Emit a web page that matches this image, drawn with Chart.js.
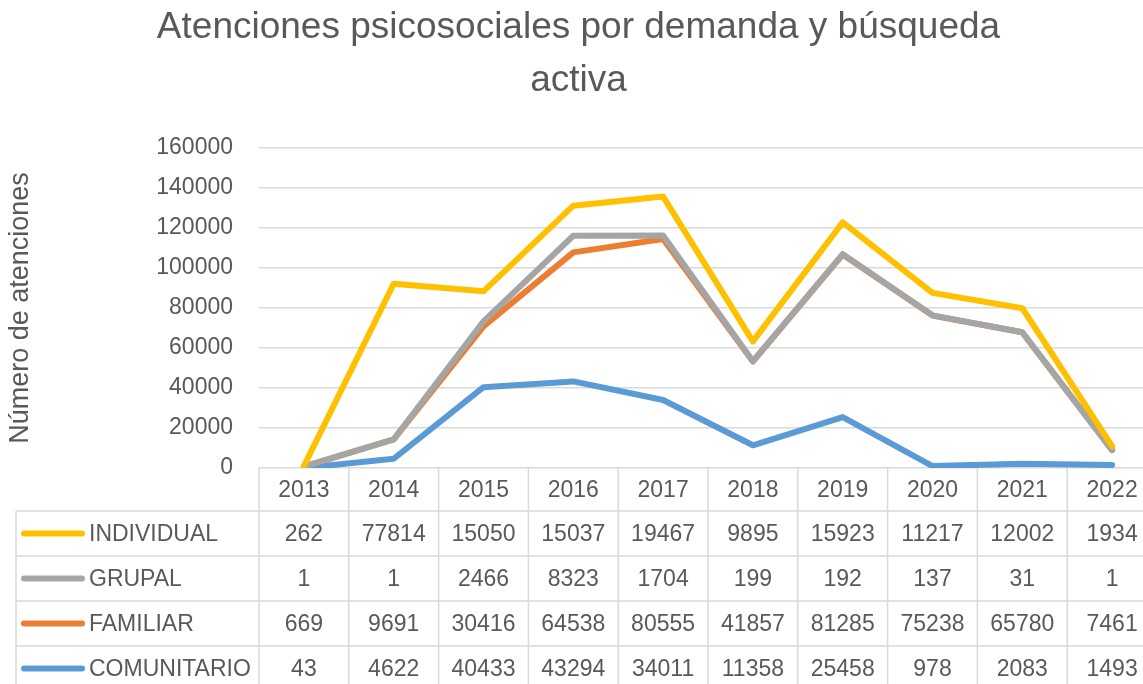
<!DOCTYPE html>
<html>
<head>
<meta charset="utf-8">
<script src="https://cdn.jsdelivr.net/npm/chart.js@4"></script>
<style>
  html, body { margin: 0; padding: 0; overflow: hidden; background: #fff; }
  #wrap { position: absolute; left: 0; top: 0; width: 1170px; height: 684px; }
</style>
</head>
<body>
<div id="wrap"><canvas id="atenciones-chart" width="1170" height="684"></canvas></div>
<script>
const years = ["2013", "2014", "2015", "2016", "2017", "2018", "2019", "2020", "2021", "2022"];
const individual = [262, 77814, 15050, 15037, 19467, 9895, 15923, 11217, 12002, 1934];
const grupal = [1, 1, 2466, 8323, 1704, 199, 192, 137, 31, 1];
const familiar = [669, 9691, 30416, 64538, 80555, 41857, 81285, 75238, 65780, 7461];
const comunitario = [43, 4622, 40433, 43294, 34011, 11358, 25458, 978, 2083, 1493];
const yMax = 160000;
const yStep = 20000;

const textColor = "#595959";
const lineColor = "#D9D9D9";
const font = "'Liberation Sans', Arial, sans-serif";

// stacked lines (Excel "line stacked"), summed here so draw order matches the original
const sumUp = (...arrs) => arrs[0].map((_, i) => arrs.reduce((s, a) => s + a[i], 0));
const stackCom = comunitario;
const stackFam = sumUp(comunitario, familiar);
const stackGru = sumUp(comunitario, familiar, grupal);
const stackInd = sumUp(comunitario, familiar, grupal, individual);

// table rows in the order they appear under the chart
const rows = [
  { label: "INDIVIDUAL", color: "#FFC000", values: individual },
  { label: "GRUPAL", color: "#A5A5A5", values: grupal },
  { label: "FAMILIAR", color: "#ED7D31", values: familiar },
  { label: "COMUNITARIO", color: "#5B9BD5", values: comunitario },
];

const lineStyle = (color) => ({
  fill: false,
  borderColor: color,
  borderWidth: 6,
  tension: 0,
  pointRadius: 0,
  borderCapStyle: "round",
  borderJoinStyle: "round",
});

const chartData = {
  labels: years,
  datasets: [
    { label: "INDIVIDUAL", data: stackInd, ...lineStyle("#FFC000") },
    { label: "GRUPAL", data: stackGru, ...lineStyle("#A5A5A5") },
    { label: "FAMILIAR", data: stackFam, ...lineStyle("#ED7D31") },
    { label: "COMUNITARIO", data: stackCom, ...lineStyle("#5B9BD5") },
  ],
};

const dataTable = {
  id: "dataTable",
  afterDraw(chart) {
    const ctx = chart.ctx;
    const area = chart.chartArea;
    const xs = chart.scales.x;
    const colW = (area.right - area.left) / years.length;
    const top = area.bottom;
    const headH = 43;
    const rowH = 45;
    const tableLeft = 16;
    const bottom = top + headH + rowH * rows.length;

    ctx.save();
    ctx.strokeStyle = lineColor;
    ctx.lineWidth = 1.5;
    ctx.beginPath();
    // vertical lines of the year columns
    for (let i = 0; i <= years.length; i++) {
      const x = area.left + i * colW;
      ctx.moveTo(x, top);
      ctx.lineTo(x, bottom);
    }
    // label column left border
    ctx.moveTo(tableLeft, top + headH);
    ctx.lineTo(tableLeft, bottom);
    // horizontal lines
    for (let r = 0; r <= rows.length; r++) {
      const y = top + headH + r * rowH;
      ctx.moveTo(tableLeft, y);
      ctx.lineTo(area.right, y);
    }
    ctx.stroke();

    ctx.fillStyle = textColor;
    ctx.font = "23px " + font;
    ctx.textBaseline = "middle";
    ctx.textAlign = "center";
    years.forEach((yr, i) => {
      ctx.fillText(yr, xs.getPixelForValue(i), top + headH / 2 + 1);
    });

    rows.forEach((row, r) => {
      const cy = top + headH + r * rowH + rowH / 2;
      ctx.strokeStyle = row.color;
      ctx.lineWidth = 6;
      ctx.lineCap = "round";
      ctx.beginPath();
      ctx.moveTo(24, cy);
      ctx.lineTo(82, cy);
      ctx.stroke();

      ctx.fillStyle = textColor;
      ctx.textAlign = "left";
      ctx.fillText(row.label, 89, cy + 1);
      ctx.textAlign = "center";
      row.values.forEach((v, i) => {
        ctx.fillText(String(v), xs.getPixelForValue(i), cy + 1);
      });
    });
    ctx.restore();
  },
};

const chartOptions = {
  responsive: false,
  animation: false,
  devicePixelRatio: 1,
  layout: { padding: { left: 0, right: 13, top: 0, bottom: 208 } },
  plugins: {
    legend: { display: false },
    tooltip: { enabled: false },
    title: {
      display: true,
      text: ["Atenciones psicosociales por demanda y búsqueda", "activa"],
      color: textColor,
      font: { family: font, size: 37, weight: "normal", lineHeight: 1.42 },
      padding: { top: 2, bottom: 41 },
    },
  },
  scales: {
    x: {
      offset: true,
      grid: { display: false },
      border: { display: false },
      ticks: { display: false },
    },
    y: {
      min: 0,
      max: yMax,
      afterFit: (scale) => { scale.width = 259; },
      border: { display: false },
      grid: { color: lineColor, lineWidth: 1.5, drawTicks: false },
      ticks: {
        stepSize: yStep,
        padding: 26,
        color: textColor,
        font: { family: font, size: 23 },
        callback: (v) => String(v),
      },
      title: {
        display: true,
        text: "Número de atenciones",
        color: textColor,
        font: { family: font, size: 27 },
        padding: { top: 4, bottom: 0 },
      },
    },
  },
};

new Chart(document.getElementById("atenciones-chart"), {
  type: "line",
  data: chartData,
  options: chartOptions,
  plugins: [dataTable],
});
</script>
</body>
</html>
